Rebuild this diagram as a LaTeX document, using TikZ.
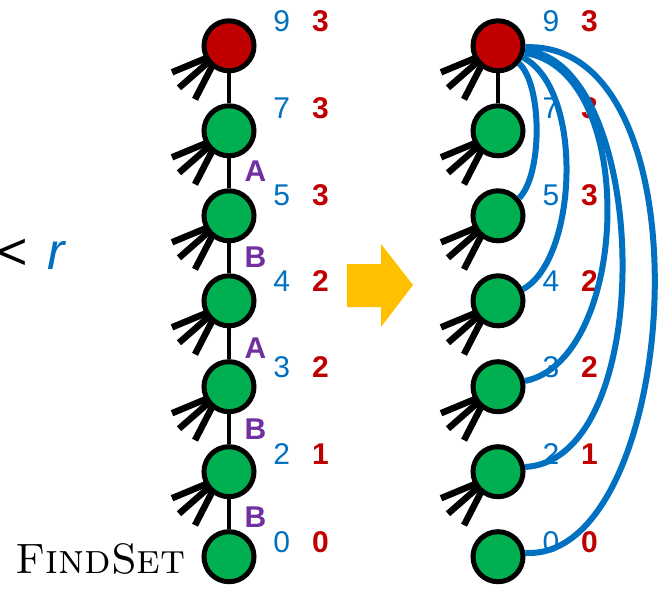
\documentclass[tikz,border=0pt]{standalone}
\usepackage{fontspec}
\newfontfamily\arial{Liberation Sans}
\definecolor{nodered}{HTML}{C00000}
\definecolor{nodegreen}{HTML}{00B050}
\definecolor{linkblue}{HTML}{0070C0}
\definecolor{labpurple}{HTML}{7030A0}
\definecolor{arrowyellow}{HTML}{FFC000}
\tikzset{
  vtx/.style={circle, draw=black, line width=5pt, minimum size=50pt, inner sep=0pt, fill=nodegreen},
  rootvtx/.style={vtx, fill=nodered},
  stub/.style={line width=6.5pt, line cap=butt},
  chain/.style={line width=4pt},
  bluelab/.style={inner sep=0pt, text=linkblue, font=\arial\fontsize{30}{30}\selectfont},
  redlab/.style={inner sep=0pt, text=nodered, font=\arial\bfseries\fontsize{30}{30}\selectfont},
  edgelab/.style={inner sep=0pt, text=labpurple, font=\arial\bfseries\fontsize{30}{30}\selectfont},
  pathc/.style={draw=linkblue, line width=6pt},
}
\begin{document}
\begin{tikzpicture}[x=1pt,y=-1pt]
\useasboundingbox (0,0) rectangle (666,591);
% ---------- stubs ----------
\foreach \y [count=\i] in {45.8,130.8,215.8,300.8,386.7,471.7} {
  \coordinate (ls\i) at (219,\y+7);
  \draw[stub] (ls\i) -- ++(-47,19.5);
  \draw[stub] (ls\i) -- ++(-40,35);
  \draw[stub] (ls\i) -- ++(-24,46.5);
}
\foreach \y [count=\i] in {45.8,130.8,215.8,300.8,386.7,471.7} {
  \coordinate (rs\i) at (488,\y+7);
  \draw[stub] (rs\i) -- ++(-47,19.5);
  \draw[stub] (rs\i) -- ++(-40,35);
  \draw[stub] (rs\i) -- ++(-24,46.5);
}
% ---------- left column ----------
\node[rootvtx] (L1) at (229,45.8) {};
\node[vtx] (L2) at (229,130.8) {};
\node[vtx] (L3) at (229,215.8) {};
\node[vtx] (L4) at (229,300.8) {};
\node[vtx] (L5) at (229,386.7) {};
\node[vtx] (L6) at (229,471.7) {};
\node[vtx] (L7) at (229,556.7) {};
\foreach \a/\b in {L1/L2,L2/L3,L3/L4,L4/L5,L5/L6,L6/L7}
  \draw[chain] (\a) -- (\b);
\node[bluelab] (lb1) at (281.7,20.8) {9};  \node[redlab] (lr1) at (320.5,20.8) {3};
\node[bluelab] (lb2) at (281.7,108) {7};   \node[redlab] (lr2) at (320.5,108) {3};
\node[bluelab] (lb3) at (281.7,195) {5};   \node[redlab] (lr3) at (320.5,195) {3};
\node[bluelab] (lb4) at (281.7,281) {4};   \node[redlab] (lr4) at (320.5,281) {2};
\node[bluelab] (lb5) at (281.7,366.7) {3}; \node[redlab] (lr5) at (320.5,366.7) {2};
\node[bluelab] (lb6) at (281.7,454) {2};   \node[redlab] (lr6) at (320.5,454) {1};
\node[bluelab] (lb7) at (281.7,541.7) {0}; \node[redlab] (lr7) at (320.5,541.7) {0};
\node[edgelab] (ea1) at (255.5,171) {A};
\node[edgelab] (eb1) at (255.5,257.3) {B};
\node[edgelab] (ea2) at (255.5,348.3) {A};
\node[edgelab] (eb2) at (255.5,429) {B};
\node[edgelab] (eb3) at (255.5,516.7) {B};
\node[inner sep=0pt, anchor=base east, font=\fontsize{42.5}{42.5}\selectfont] (fs) at (186,573) {\textsc{FindSet}};
\node[inner sep=0pt, anchor=base west, font=\arial\fontsize{52}{52}\selectfont] (lt) at (0.2,269.5) {\hspace{-2.8pt}<\hspace{0.37em}\textcolor{linkblue}{\itshape r}};
% ---------- arrow ----------
\fill[arrowyellow] (347,264) -- (381,264) -- (381,244) -- (413,285) -- (381,327) -- (381,307) -- (347,307) -- cycle;
% ---------- right column ----------
\node[rootvtx] (R1) at (498,45.8) {};
\node[vtx] (R2) at (498,130.8) {};
\node[vtx] (R3) at (498,215.8) {};
\node[vtx] (R4) at (498,300.8) {};
\node[vtx] (R5) at (498,386.7) {};
\node[vtx] (R6) at (498,471.7) {};
\node[vtx] (R7) at (498,556.7) {};
\draw[chain] (R1) -- (R2);
\node[bluelab] (rb1) at (551,20.8) {9};  \node[redlab] (rr1) at (589.5,20.8) {3};
\node[bluelab] (rb2) at (551,108) {7};   \node[redlab] (rr2) at (589.5,108) {3};
\node[bluelab] (rb3) at (551,195) {5};   \node[redlab] (rr3) at (589.5,195) {3};
\node[bluelab] (rb4) at (551,281) {4};   \node[redlab] (rr4) at (589.5,281) {2};
\node[bluelab] (rb5) at (551,366.7) {3}; \node[redlab] (rr5) at (589.5,366.7) {2};
\node[bluelab] (rb6) at (551,454) {2};   \node[redlab] (rr6) at (589.5,454) {1};
\node[bluelab] (rb7) at (551,541.7) {0}; \node[redlab] (rr7) at (589.5,541.7) {0};
\draw[pathc] (R1.-40) .. controls (542.5,85) and (542.5,175) .. (R3.40);
\draw[pathc] (R1.-25) .. controls (585,90) and (577,260) .. (R4.25);
\draw[pathc] (R1.-15) .. controls (640,70) and (630,360) .. (R5.12);
\draw[pathc] (R1.-10) .. controls (650,60) and (660,460) .. (R6.10);
\draw[pathc] (R1.-3) .. controls (715,40) and (680,562) .. (R7.8);
\end{tikzpicture}
\end{document}
